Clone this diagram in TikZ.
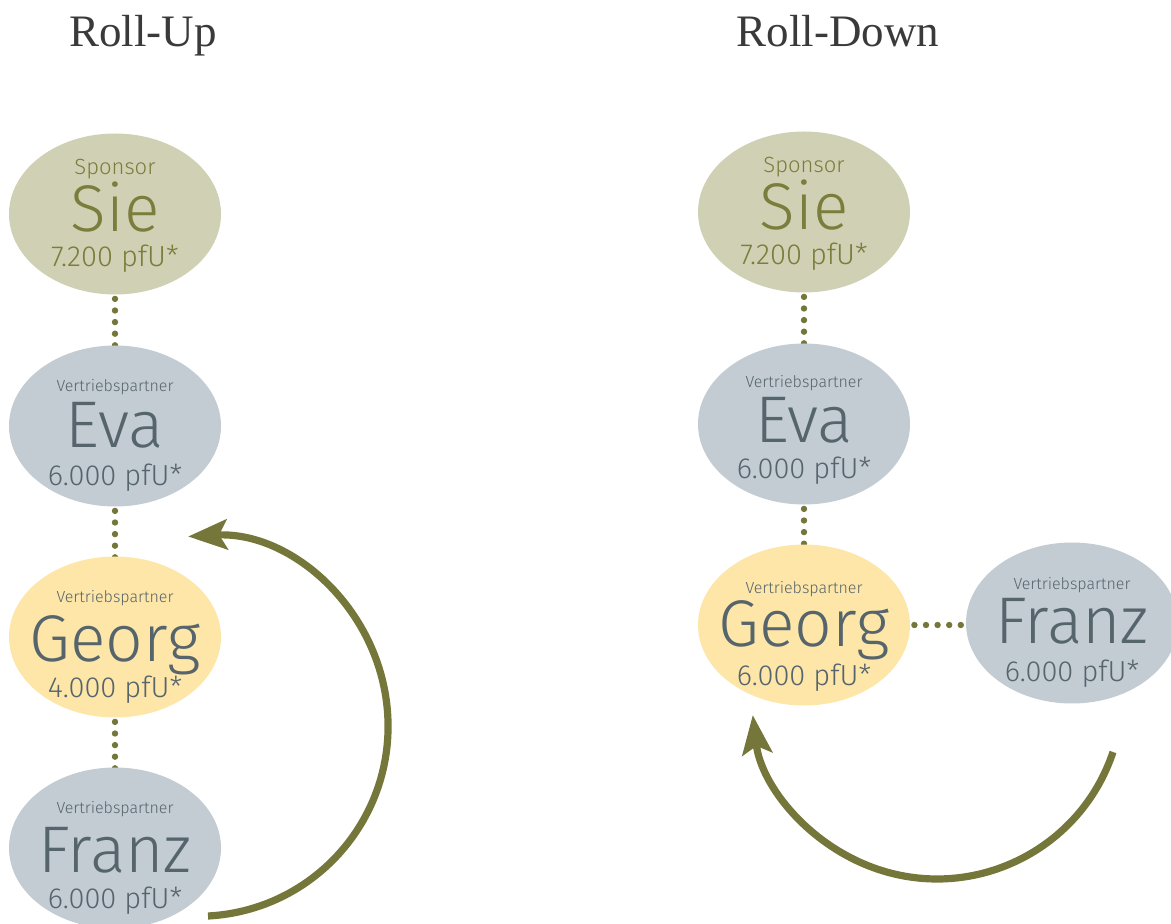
\documentclass[tikz,border=0pt]{standalone}
\usepackage{fontspec}
\setmainfont{Liberation Serif}
\newfontfamily\lt{Fira Sans Light}
\usetikzlibrary{shapes.geometric,arrows.meta}
\pgfdeclarelayer{bg}
\pgfsetlayers{bg,main}
\definecolor{olv}{HTML}{75773A}
\definecolor{olvtxt}{HTML}{7A7D3B}
\definecolor{sage}{HTML}{D0D1B4}
\definecolor{bluegr}{HTML}{C3CBD3}
\definecolor{yell}{HTML}{FDE6A8}
\definecolor{slate}{HTML}{56646C}
\definecolor{ttl}{HTML}{3A3A3A}
\tikzset{
  pers/.style={ellipse, minimum width=106pt, minimum height=80.5pt, inner sep=0pt, draw=none},
  sponsorfill/.style={pers, fill=sage},
  partnerfill/.style={pers, fill=bluegr},
  selffill/.style={pers, fill=yell},
  toplbl/.style={anchor=base, inner sep=0pt, font=\lt\fontsize{8}{9}\selectfont},
  sponlbl/.style={anchor=base, inner sep=0pt, font=\lt\fontsize{11}{12}\selectfont},
  mainlbl/.style={anchor=base, inner sep=0pt, text depth=0pt, font=\lt\fontsize{33}{33}\selectfont},
  vallbl/.style={anchor=base, inner sep=0pt, text height=0.7em, font=\lt\fontsize{14.5}{15}\selectfont},
  dots/.style={draw=olv, line width=3.2pt, dash pattern=on 0pt off 5.8pt, line cap=round, shorten <=2pt, shorten >=-2pt},
  bigarrow/.style={draw=olv, line width=3.6pt, -{Stealth[length=19.5pt, width=15pt, inset=4pt]}},
  title/.style={anchor=base, inner sep=0pt, text=ttl, font=\fontsize{22.5}{24}\selectfont}
}
\begin{document}
\begin{tikzpicture}[x=0.5pt, y=-0.5pt]
\path[use as bounding box] (0,0) rectangle (1171,924);

% titles
\node[title] (t1) at (143,47) {Roll-Up};
\node[title] (t2) at (838,47) {Roll-Down};

% ---------- left column ----------
\node[sponsorfill] (lsie) at (115,214) {};
\node[sponlbl, text=olvtxt] (lsie-t) at (115,175) {Sponsor};
\node[mainlbl, text=olvtxt] (lsie-m) at (115,232) {Sie};
\node[vallbl, text=olvtxt] (lsie-v) at (115,267) {7.200 pfU*};

\node[partnerfill] (leva) at (115,426) {};
\node[toplbl, text=slate] (leva-t) at (115,392) {Vertriebspartner};
\node[mainlbl, text=slate] (leva-m) at (115,448) {Eva};
\node[vallbl, text=slate] (leva-v) at (115,485) {6.000 pfU*};

\node[selffill] (lgeorg) at (115,637) {};
\node[toplbl, text=slate] (lgeorg-t) at (115,602) {Vertriebspartner};
\node[mainlbl, text=slate] (lgeorg-m) at (115,661) {Georg};
\node[vallbl, text=slate] (lgeorg-v) at (115,697) {4.000 pfU*};

\node[partnerfill] (lfranz) at (115,848) {};
\node[toplbl, text=slate] (lfranz-t) at (115,813) {Vertriebspartner};
\node[mainlbl, text=slate] (lfranz-m) at (115,872) {Franz};
\node[vallbl, text=slate] (lfranz-v) at (115,908) {6.000 pfU*};

\coordinate (ua) at (208,916);
\draw[bigarrow] (ua) arc[start angle=87, end angle=-93, radius=190];

% ---------- right column ----------
\node[sponsorfill] (rsie) at (804,212) {};
\node[sponlbl, text=olvtxt] (rsie-t) at (804,173) {Sponsor};
\node[mainlbl, text=olvtxt] (rsie-m) at (804,230) {Sie};
\node[vallbl, text=olvtxt] (rsie-v) at (804,265) {7.200 pfU*};

\node[partnerfill] (reva) at (804,424) {};
\node[toplbl, text=slate] (reva-t) at (804,388) {Vertriebspartner};
\node[mainlbl, text=slate] (reva-m) at (804,443) {Eva};
\node[vallbl, text=slate] (reva-v) at (804,479) {6.000 pfU*};

\node[selffill] (rgeorg) at (804,625) {};
\node[toplbl, text=slate] (rgeorg-t) at (804,593) {Vertriebspartner};
\node[mainlbl, text=slate] (rgeorg-m) at (804,646) {Georg};
\node[vallbl, text=slate] (rgeorg-v) at (804,685) {6.000 pfU*};

\node[partnerfill] (rfranz) at (1072,623) {};
\node[toplbl, text=slate] (rfranz-t) at (1072,589) {Vertriebspartner};
\node[mainlbl, text=slate] (rfranz-m) at (1072,643) {Franz};
\node[vallbl, text=slate] (rfranz-v) at (1072,681) {6.000 pfU*};

\coordinate (da) at (1113,752);
\draw[bigarrow] (da) arc[start angle=18.4, end angle=173.3, radius=185.5];

% dotted connectors behind the ellipses
\begin{pgfonlayer}{bg}
\draw[dots] (lsie.south) -- (leva.north);
\draw[dots] (leva.south) -- (lgeorg.north);
\draw[dots] (lgeorg.south) -- (lfranz.north);
\draw[dots] (rsie.south) -- (reva.north);
\draw[dots] (reva.south) -- (rgeorg.north);
\draw[dots] (rgeorg.east) -- (rgeorg.east -| rfranz.west);
\end{pgfonlayer}
\end{tikzpicture}
\end{document}
